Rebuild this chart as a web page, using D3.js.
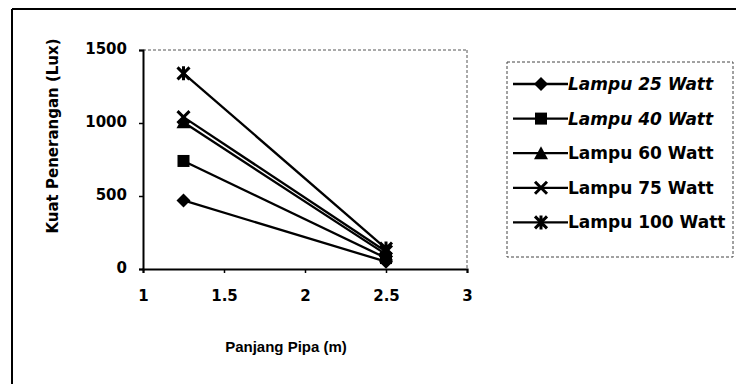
<!DOCTYPE html>
<html>
<head>
<meta charset="utf-8">
<script src="https://cdn.jsdelivr.net/npm/d3@7"></script>
<style>
  body { margin: 0; background: #fff; overflow: hidden; }
  svg { display: block; font-family: "DejaVu Sans", sans-serif; }
  .tick-lbl { font-family: "DejaVu Sans", sans-serif; font-size: 15px; font-weight: bold; fill: #000; }
  .y-title { font-size: 15px; font-weight: bold; fill: #000; }
  .x-title { font-family: "Liberation Sans", Arial, sans-serif; font-size: 15px; font-weight: bold; fill: #000; }
  .legend-lbl { font-size: 17px; font-weight: bold; fill: #000; }
</style>
</head>
<body>
<svg id="chart"></svg>
<script>
// Data
const panjang = [1.25, 2.5];
const seriesNames = ['Lampu 25 Watt', 'Lampu 40 Watt', 'Lampu 60 Watt', 'Lampu 75 Watt', 'Lampu 100 Watt'];
const lampu25  = [470, 50];
const lampu40  = [740, 75];
const lampu60  = [1005, 100];
const lampu75  = [1040, 120];
const lampu100 = [1340, 140];
const markers = ['diamond', 'square', 'triangle', 'x', 'star'];
const italicLegend = [true, true, false, false, false];
const xTicks = [1, 1.5, 2, 2.5, 3];
const yTicks = [0, 500, 1000, 1500];

const allValues = [lampu25, lampu40, lampu60, lampu75, lampu100];

const W = 737, H = 384;
const plot = { left: 143, top: 50, right: 467, bottom: 269 };

const svg = d3.select('#chart').attr('width', W).attr('height', H);

// outer frame (only top + left visible in the scan)
svg.append('line').attr('x1', 12).attr('y1', 9).attr('x2', W - 1).attr('y2', 9)
  .attr('stroke', '#000').attr('stroke-width', 2);
svg.append('line').attr('x1', 12).attr('y1', 9).attr('x2', 12).attr('y2', H)
  .attr('stroke', '#000').attr('stroke-width', 2);

const x = d3.scaleLinear().domain([1, 3]).range([plot.left, plot.right]);
const y = d3.scaleLinear().domain([0, 1500]).range([plot.bottom, plot.top]);

// plot area frame (top/right faint)
svg.append('line').attr('x1', plot.left).attr('y1', plot.top).attr('x2', plot.right).attr('y2', plot.top)
  .attr('stroke', '#555').attr('stroke-width', 1).attr('stroke-dasharray', '3,2');
svg.append('line').attr('x1', plot.right).attr('y1', plot.top).attr('x2', plot.right).attr('y2', plot.bottom)
  .attr('stroke', '#555').attr('stroke-width', 1).attr('stroke-dasharray', '3,2');

// axes
const xAxis = d3.axisBottom(x).tickValues(xTicks).tickSize(4).tickFormat(d3.format('')).tickPadding(17);
const yAxis = d3.axisLeft(y).tickValues(yTicks).tickSize(4).tickFormat(d3.format('d')).tickPadding(12);

const gx = svg.append('g').attr('transform', `translate(0,${plot.bottom})`).call(xAxis);
const gy = svg.append('g').attr('transform', `translate(${plot.left},0)`).call(yAxis);
[gx, gy].forEach(g => {
  g.attr('font-family', null).attr('font-size', null);
  g.select('.domain').attr('stroke', '#000').attr('stroke-width', 2);
  g.selectAll('.tick line').attr('stroke', '#000').attr('stroke-width', 1.5);
  g.selectAll('.tick text').attr('class', 'tick-lbl');
});
gy.selectAll('.tick text').attr('dy', '0.25em');

// axis titles
svg.append('text').attr('class', 'y-title')
  .attr('transform', `translate(58,136) rotate(-90)`)
  .attr('text-anchor', 'middle').text('Kuat Penerangan (Lux)');
svg.append('text').attr('class', 'x-title')
  .attr('x', 286).attr('y', 352).attr('text-anchor', 'middle').text('Panjang Pipa (m)');

// marker drawing
function drawMarker(g, type, cx, cy) {
  const s = 6;
  if (type === 'diamond') {
    g.append('path').attr('d', `M${cx},${cy - s - 1}L${cx + s + 1},${cy}L${cx},${cy + s + 1}L${cx - s - 1},${cy}Z`).attr('fill', '#000');
  } else if (type === 'square') {
    g.append('rect').attr('x', cx - s).attr('y', cy - s).attr('width', 2 * s).attr('height', 2 * s).attr('fill', '#000');
  } else if (type === 'triangle') {
    g.append('path').attr('d', `M${cx},${cy - s - 1}L${cx + s + 1},${cy + s}L${cx - s - 1},${cy + s}Z`).attr('fill', '#000');
  } else if (type === 'x') {
    g.append('path').attr('d', `M${cx - s},${cy - s}L${cx + s},${cy + s}M${cx + s},${cy - s}L${cx - s},${cy + s}`)
      .attr('stroke', '#000').attr('stroke-width', 3);
  } else {
    g.append('path').attr('d', `M${cx - s},${cy - s}L${cx + s},${cy + s}M${cx + s},${cy - s}L${cx - s},${cy + s}M${cx},${cy - s - 1}L${cx},${cy + s + 1}`)
      .attr('stroke', '#000').attr('stroke-width', 3);
  }
}

const line = d3.line().x((d, i) => x(panjang[i])).y(d => y(d));

allValues.forEach((vals, si) => {
  const g = svg.append('g');
  g.append('path').datum(vals).attr('d', line).attr('fill', 'none')
    .attr('stroke', '#000').attr('stroke-width', 2.3);
  vals.forEach((v, i) => drawMarker(g, markers[si], x(panjang[i]), y(v)));
});

// legend
const leg = { x: 507, y: 62, w: 226, h: 195 };
svg.append('rect').attr('x', leg.x).attr('y', leg.y).attr('width', leg.w).attr('height', leg.h)
  .attr('fill', 'none').attr('stroke', '#444').attr('stroke-width', 1).attr('stroke-dasharray', '3,2');
seriesNames.forEach((name, i) => {
  const ly = 84 + i * 34.6;
  const g = svg.append('g');
  g.append('line').attr('x1', 513).attr('x2', 568).attr('y1', ly).attr('y2', ly)
    .attr('stroke', '#000').attr('stroke-width', 2.3);
  drawMarker(g, markers[i], 541, ly);
  g.append('text').attr('class', 'legend-lbl').attr('x', 568).attr('y', ly + 6)
    .attr('font-style', italicLegend[i] ? 'italic' : 'normal').text(name);
});
</script>
</body>
</html>
